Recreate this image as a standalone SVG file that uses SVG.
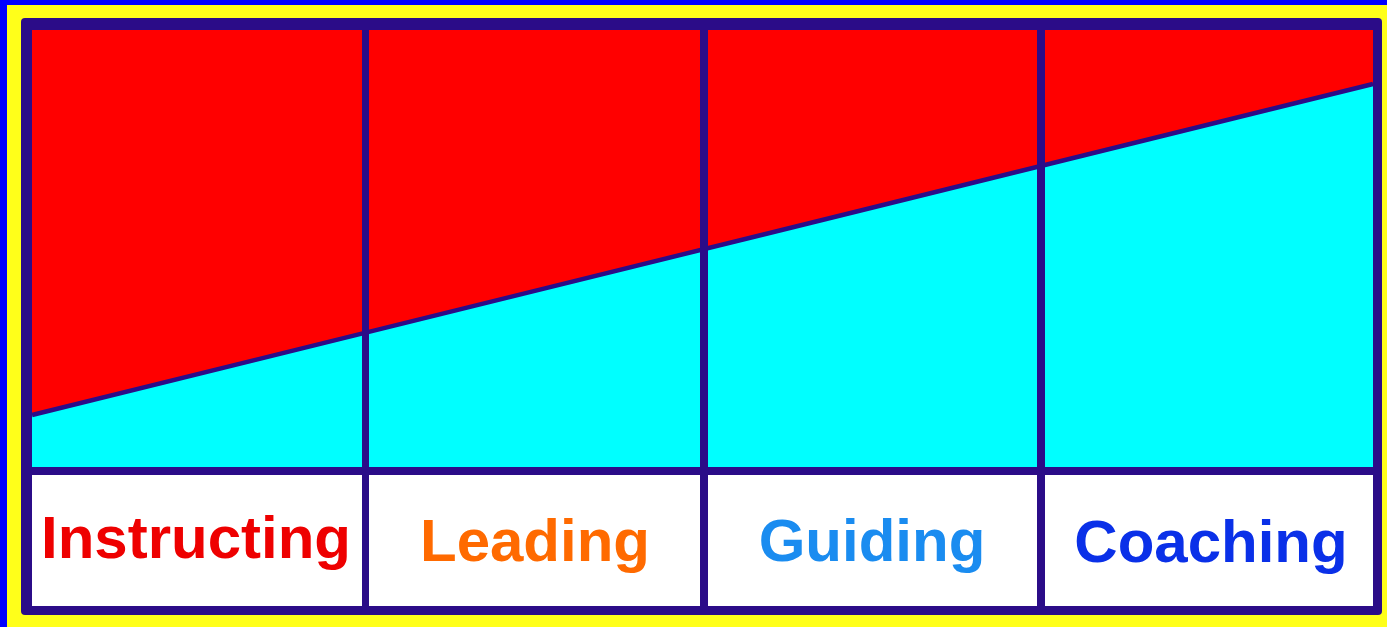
<svg xmlns="http://www.w3.org/2000/svg" width="1387" height="627" viewBox="0 0 1387 627">
<style>
.lbl{font-family:"Liberation Sans",Arial,sans-serif;font-weight:bold;font-size:60px;text-anchor:middle}
.cell{fill:#ffffff}
.nv{fill:#2B0C88}
</style>
<rect x="0" y="0" width="1387" height="627" fill="#0000FF"/>
<rect x="7" y="5" width="1380" height="622" fill="#FFFF1A"/>
<rect x="21" y="18" width="1361" height="597" rx="4" class="nv"/>
<g id="chart">
<rect x="32" y="30" width="1341" height="437" fill="#00FFFF"/>
<polygon points="32,30 1373,30 1373,84 32,415" fill="#FF0000"/>
</g>
<g id="connectors">
<line x1="32" y1="415" x2="1373" y2="84" stroke="#2B0C88" stroke-width="4.5"/>
<rect x="362" y="18" width="7" height="597" class="nv"/>
<rect x="700" y="18" width="8" height="597" class="nv"/>
<rect x="1037" y="18" width="8" height="597" class="nv"/>
<rect x="21" y="467" width="1361" height="8" class="nv"/>
</g>
<g id="instructing">
<rect x="32" y="475" width="330" height="131" class="cell"/>
<text x="196" y="558" class="lbl" fill="#EE0000">Instructing</text>
</g>
<g id="leading">
<rect x="369" y="475" width="331" height="131" class="cell"/>
<text x="535" y="561" class="lbl" fill="#FF6A00">Leading</text>
</g>
<g id="guiding">
<rect x="708" y="475" width="329" height="131" class="cell"/>
<text x="872" y="561" class="lbl" fill="#1A8CF0">Guiding</text>
</g>
<g id="coaching">
<rect x="1045" y="475" width="328" height="131" class="cell"/>
<text x="1211" y="562" class="lbl" fill="#0A30E8">Coaching</text>
</g>
</svg>
